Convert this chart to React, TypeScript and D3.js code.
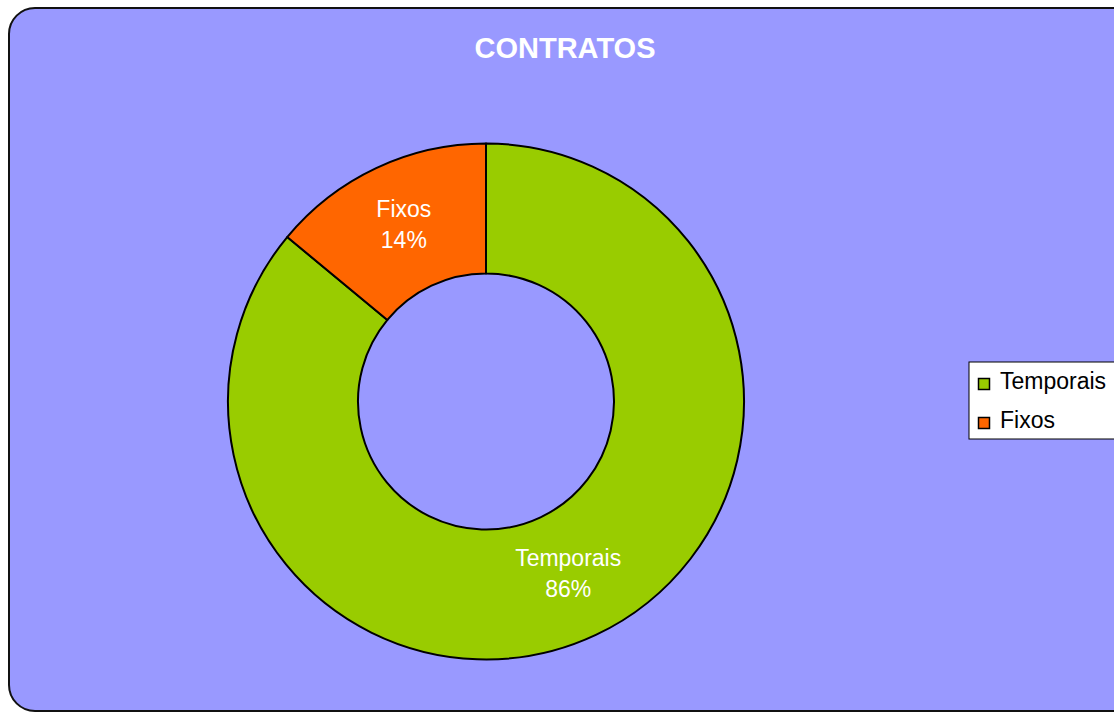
import React, { useEffect, useRef } from "react";
import * as d3 from "d3";

const categories = ["Temporais", "Fixos"];
const shares = [86, 14];
const colors = ["#99cc00", "#ff6600"];
const title = "CONTRATOS";

const W = 1114;
const H = 713;

export default function App() {
  const ref = useRef<SVGSVGElement>(null);

  useEffect(() => {
    const svg = d3.select(ref.current);
    svg.selectAll("*").remove();

    // plot area panel with rounded corners (cut off on the right)
    svg
      .append("rect")
      .attr("x", 9)
      .attr("y", 8)
      .attr("width", 1140)
      .attr("height", 703)
      .attr("rx", 26)
      .attr("fill", "#9999ff")
      .attr("stroke", "#111")
      .attr("stroke-width", 2);

    svg
      .append("text")
      .attr("x", 565)
      .attr("y", 58)
      .attr("text-anchor", "middle")
      .attr("fill", "#fff")
      .style("font-family", "Liberation Sans, Arial, sans-serif")
      .style("font-weight", "bold")
      .style("font-size", "29px")
      .text(title);

    const cx = 486;
    const cy = 401.5;
    const outer = 258;
    const inner = 128;

    const pie = d3
      .pie<number>()
      .sort(null)
      .value((d) => d);
    const arcs = pie(shares);
    const arc = d3.arc<d3.PieArcDatum<number>>().innerRadius(inner).outerRadius(outer);

    const g = svg.append("g").attr("transform", "translate(" + cx + "," + cy + ")");
    g.selectAll("path")
      .data(arcs)
      .enter()
      .append("path")
      .attr("d", arc)
      .attr("fill", (d, i) => colors[i])
      .attr("stroke", "#000")
      .attr("stroke-width", 2)
      .attr("stroke-linejoin", "round");

    const labels = g
      .selectAll("text.lbl")
      .data(arcs)
      .enter()
      .append("text")
      .attr("class", "lbl")
      .attr("transform", (d) => {
        const c = arc.centroid(d);
        return "translate(" + c[0] + "," + c[1] + ")";
      })
      .attr("text-anchor", "middle")
      .attr("fill", "#fff")
      .style("font-family", "Liberation Sans, Arial, sans-serif")
      .style("font-size", "23px");
    labels
      .append("tspan")
      .attr("x", 0)
      .attr("y", -10)
      .text((d, i) => categories[i]);
    labels
      .append("tspan")
      .attr("x", 0)
      .attr("y", 21)
      .text((d) => d.data + "%");

    // legend
    const lg = svg.append("g").attr("transform", "translate(969,362)");
    lg.append("rect")
      .attr("width", 160)
      .attr("height", 77)
      .attr("fill", "#fff")
      .attr("stroke", "#000")
      .attr("stroke-width", 1);
    const items = lg
      .selectAll("g.item")
      .data(categories)
      .enter()
      .append("g")
      .attr("class", "item")
      .attr("transform", (d, i) => "translate(0," + (27 + i * 39) + ")");
    items
      .append("rect")
      .attr("x", 9.5)
      .attr("y", -10.5)
      .attr("width", 11)
      .attr("height", 11)
      .attr("fill", (d, i) => colors[i])
      .attr("stroke", "#000")
      .attr("stroke-width", 1.5);
    items
      .append("text")
      .attr("x", 31)
      .attr("y", 0)
      .attr("fill", "#000")
      .style("font-family", "Liberation Sans, Arial, sans-serif")
      .style("font-size", "23px")
      .text((d) => d);
  }, []);

  return (
    <svg
      ref={ref}
      width={W}
      height={H}
      style={{ position: "absolute", left: 0, top: 0, background: "#fff" }}
    />
  );
}
